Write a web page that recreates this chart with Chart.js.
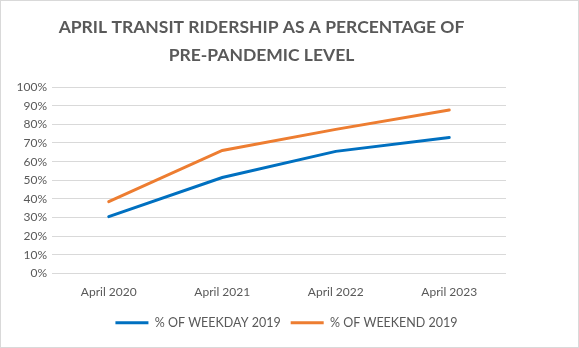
<!DOCTYPE html>
<html>
<head>
<meta charset="utf-8">
<script src="https://cdn.jsdelivr.net/npm/chart.js@4.4.1/dist/chart.umd.min.js"></script>
<style>
    html, body { margin: 0; padding: 0; background: #fff; }
    #wrap { width: 579px; height: 348px; box-sizing: border-box; border: 1px solid #d9d9d9; }
    #chart { display: block; }
</style>
</head>
<body>
<div id="wrap"><canvas id="chart" width="577" height="346"></canvas></div>
<script>
const labels = ['April 2020', 'April 2021', 'April 2022', 'April 2023'];
const weekdayPct = [30.5, 51.5, 65.5, 73];
const weekendPct = [38.5, 66, 77.3, 87.7];
const titleLines = ['APRIL TRANSIT RIDERSHIP AS A PERCENTAGE OF', 'PRE-PANDEMIC LEVEL'];

const GRAY = '#595959';
const GRID = '#d9d9d9';
const FONT = 'Lato, "Liberation Sans", sans-serif';

// title and legend sit off the plot's centre line, nudge them sideways
const nudgeBoxes = {
    id: 'nudgeBoxes',
    afterLayout(chart) {
        const shift = (box, dx) => { if (box) { box.left += dx; box.right += dx; } };
        shift(chart.titleBlock, 8);
        shift(chart.legend, 33);
    }
};

const ctx = document.getElementById('chart');
new Chart(ctx, {
    type: 'line',
    data: {
        labels: labels,
        datasets: [{
            label: '% OF WEEKDAY 2019',
            data: weekdayPct,
            borderColor: '#0070C0',
            backgroundColor: '#0070C0',
            borderWidth: 3,
            pointRadius: 0,
            tension: 0,
            borderCapStyle: 'round'
        }, {
            label: '% OF WEEKEND 2019',
            data: weekendPct,
            borderColor: '#ED7D31',
            backgroundColor: '#ED7D31',
            borderWidth: 3,
            pointRadius: 0,
            tension: 0,
            borderCapStyle: 'round'
        }]
    },
    plugins: [nudgeBoxes],
    options: {
        responsive: false,
        animation: false,
        layout: { padding: { left: 0, right: 72, top: 0, bottom: 8 } },
        plugins: {
            title: {
                display: true,
                text: titleLines,
                color: GRAY,
                font: { family: FONT, size: 17.5, weight: 'bold', lineHeight: 1.63 },
                padding: { top: 12, bottom: 17 }
            },
            legend: {
                position: 'bottom',
                labels: {
                    color: GRAY,
                    font: { family: FONT, size: 12.5 },
                    boxWidth: 33,
                    boxHeight: 3,
                    padding: 10,
                    generateLabels: (chart) => Chart.defaults.plugins.legend.labels.generateLabels(chart)
                        .map(item => ({ ...item, lineWidth: 0 }))
                }
            },
            tooltip: { enabled: false }
        },
        scales: {
            x: {
                offset: true,
                afterFit: (scale) => { scale.height = 33; },
                grid: { display: false, drawTicks: false },
                border: { display: false },
                ticks: { color: GRAY, font: { family: FONT, size: 12 }, padding: 11 }
            },
            y: {
                min: 0,
                max: 100,
                afterFit: (scale) => { scale.width = 51; },
                grid: { color: GRID, lineWidth: 1, drawTicks: false },
                border: { display: false },
                ticks: {
                    stepSize: 10,
                    color: GRAY,
                    font: { family: FONT, size: 12 },
                    padding: 5,
                    callback: (v) => v + '%'
                }
            }
        }
    }
});
</script>
</body>
</html>
